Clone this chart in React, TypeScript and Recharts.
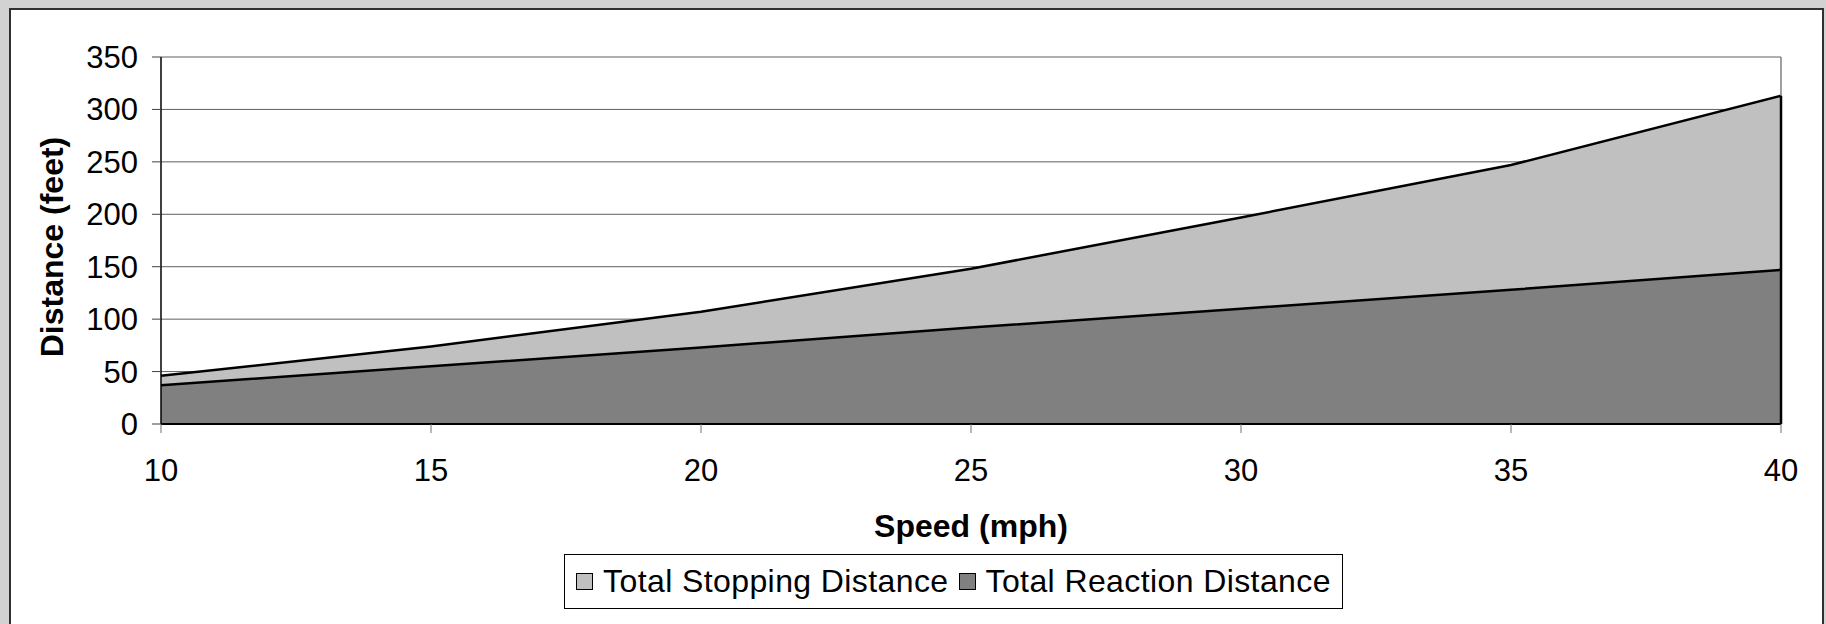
import React from "react";
import {
  AreaChart,
  Area,
  XAxis,
  YAxis,
  CartesianGrid,
  ReferenceLine,
} from "recharts";

// speed in mph
const speeds = [10, 15, 20, 25, 30, 35, 40];
// distances in feet
const stoppingDistance = [46, 74, 107, 148, 197, 247, 313];
const reactionDistance = [37, 55, 73, 92, 110, 128, 147];

const yTicks = [0, 50, 100, 150, 200, 250, 300, 350];
const xTicks = [10, 15, 20, 25, 30, 35, 40];

const FONT = "'Liberation Sans', Arial, sans-serif";

const data = speeds.map((speed, i) => ({
  speed,
  stopping: stoppingDistance[i],
  reaction: reactionDistance[i],
}));

const legendItems = [
  { label: "Total Stopping Distance", color: "#c0c0c0" },
  { label: "Total Reaction Distance", color: "#808080" },
];

const ChartLegend = () => (
  <div
    style={{
      position: "absolute",
      left: 564,
      top: 554,
      boxSizing: "border-box",
      width: 779,
      height: 55,
      border: "1.5px solid #000",
      background: "#fff",
      display: "flex",
      alignItems: "center",
      justifyContent: "center",
      gap: 10,
      fontFamily: FONT,
      fontSize: 32,
      letterSpacing: 0.4,
      color: "#000",
    }}
  >
    {legendItems.map((item) => (
      <div key={item.label} style={{ display: "flex", alignItems: "center" }}>
        <span
          style={{
            display: "inline-block",
            boxSizing: "border-box",
            width: 17,
            height: 17,
            background: item.color,
            border: "1.5px solid #000",
            marginRight: 10,
          }}
        />
        <span>{item.label}</span>
      </div>
    ))}
  </div>
);

const YTitle = () => (
  <text
    x={52}
    y={247}
    transform="rotate(-90 52 247)"
    textAnchor="middle"
    dominantBaseline="central"
    fontFamily={FONT}
    fontSize={32}
    fontWeight="bold"
    fill="#000"
  >
    Distance (feet)
  </text>
);

const XTitle = () => (
  <text
    x={971}
    y={526}
    textAnchor="middle"
    dominantBaseline="central"
    fontFamily={FONT}
    fontSize={32}
    fontWeight="bold"
    fill="#000"
  >
    Speed (mph)
  </text>
);

export default function App() {
  return (
    <div
      style={{
        position: "absolute",
        left: 0,
        top: 0,
        width: 1826,
        height: 624,
        overflow: "hidden",
        background: "#d2d2d2",
      }}
    >
      <div
        style={{
          position: "absolute",
          left: 9,
          top: 8,
          width: 1815,
          height: 640,
          boxSizing: "border-box",
          border: "2px solid #303030",
          background: "#fff",
        }}
      />
      <div style={{ position: "absolute", left: 0, top: 0 }}>
        <AreaChart
          width={1826}
          height={624}
          data={data}
          margin={{ top: 57, right: 45, left: 61, bottom: 100 }}
        >
          <CartesianGrid vertical={false} stroke="#606060" strokeWidth={1} />
          <XAxis
            dataKey="speed"
            type="number"
            domain={[10, 40]}
            ticks={xTicks}
            height={100}
            tickSize={9}
            tickMargin={26}
            axisLine={{ stroke: "#000", strokeWidth: 2 }}
            tickLine={{ stroke: "#707070" }}
            tick={{ fill: "#000", fontSize: 31, fontFamily: FONT }}
            label={{ content: () => <XTitle /> }}
          />
          <YAxis
            domain={[0, 350]}
            ticks={yTicks}
            width={100}
            tickSize={9}
            tickMargin={14}
            interval={0}
            axisLine={{ stroke: "#000", strokeWidth: 1.5 }}
            tickLine={{ stroke: "#404040" }}
            tick={{ fill: "#000", fontSize: 31, fontFamily: FONT }}
            label={{ content: () => <YTitle /> }}
          />
          <ReferenceLine x={40} stroke="#808080" strokeWidth={1.5} />
          <Area
            type="linear"
            dataKey="stopping"
            name="Total Stopping Distance"
            fill="#c0c0c0"
            fillOpacity={1}
            stroke="#000"
            strokeWidth={2.5}
            isAnimationActive={false}
            dot={false}
            activeDot={false}
          />
          <Area
            type="linear"
            dataKey="reaction"
            name="Total Reaction Distance"
            fill="#808080"
            fillOpacity={1}
            stroke="#000"
            strokeWidth={2.5}
            isAnimationActive={false}
            dot={false}
            activeDot={false}
          />
          <ReferenceLine
            segment={[
              { x: speeds[speeds.length - 1], y: 0 },
              {
                x: speeds[speeds.length - 1],
                y: stoppingDistance[stoppingDistance.length - 1],
              },
            ]}
            stroke="#000"
            strokeWidth={2.5}
          />
        </AreaChart>
      </div>
      <ChartLegend />
    </div>
  );
}
